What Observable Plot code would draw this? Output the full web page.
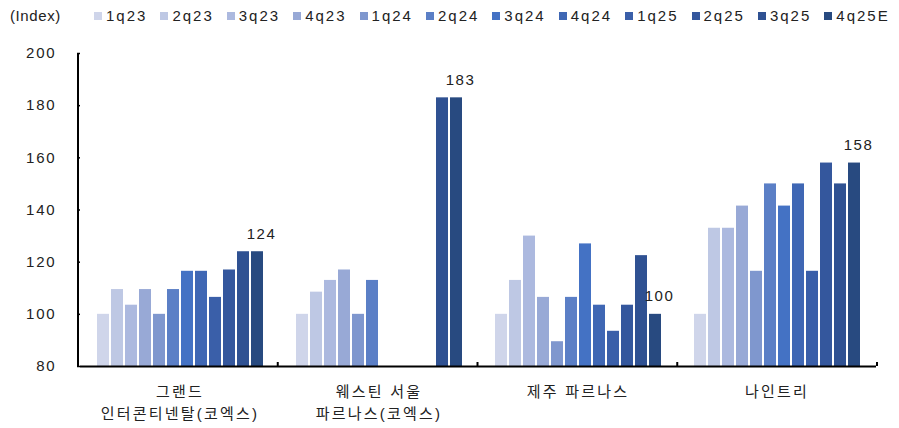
<!DOCTYPE html>
<html>
<head>
<meta charset="utf-8">
<script src="https://cdn.jsdelivr.net/npm/d3@7"></script>
<script src="https://cdn.jsdelivr.net/npm/@observablehq/plot@0.6"></script>
<style>
  html, body { margin: 0; padding: 0; background: #fff; }
  #wrap { position: relative; width: 899px; height: 428px; font-family: "Liberation Sans", "Noto Sans CJK KR", sans-serif; color: #222; }
  #unit { position: absolute; left: 10px; top: 7px; font-size: 15px; letter-spacing: 0.6px; }
  #legend { position: absolute; left: 94px; top: 7px; display: flex; font-size: 15px; letter-spacing: 2px; }
  .item { width: 66.4px; display: flex; align-items: center; white-space: nowrap; }
  .sw { width: 8px; height: 8px; margin-right: 4px; flex: none; }
  svg { position: absolute; left: 0; top: 0; }
  g[aria-label="y-axis tick label"] text { letter-spacing: 1.8px; }
  g[aria-label="fx-axis tick label"] text { letter-spacing: 2.2px; }
  g.barlabels text { letter-spacing: 1.5px; }
</style>
</head>
<body>
<div id="wrap">
  <div id="unit">(Index)</div>
  <div id="legend"></div>
</div>
<script>
const groups = ["그랜드\n인터콘티넨탈(코엑스)", "웨스틴 서울\n파르나스(코엑스)", "제주 파르나스", "나인트리"];
const quarters = ["1q23", "2q23", "3q23", "4q23", "1q24", "2q24", "3q24", "4q24", "1q25", "2q25", "3q25", "4q25E"];
const colors = ["#CFD5EA", "#BEC8E4", "#ACB9DF", "#98A9D6", "#7F97CE", "#5B7FC6", "#4472C4", "#3F67B4", "#3A5FA9", "#34579D", "#2F5192", "#284A80"];
const grandValues   = [100, 109.5, 103.5, 109.5, 100, 109.5, 116.5, 116.5, 106.5, 117, 124, 124];
const westinValues  = [100, 108.5, 113, 117, 100, 113, null, null, null, null, 183, 183];
const jejuValues    = [100, 113, 130, 106.5, 89.5, 106.5, 127, 103.5, 93.5, 103.5, 122.5, 100];
const ninetreeValues = [100, 133, 133, 141.5, 116.5, 150, 141.5, 150, 116.5, 158, 150, 158];
const labelValues = [124, 183, 100, 158];
const yTicks = [80, 100, 120, 140, 160, 180, 200];

const seriesByGroup = [grandValues, westinValues, jejuValues, ninetreeValues];
const rows = [];
groups.forEach((g, gi) => {
  quarters.forEach((q, qi) => {
    const v = seriesByGroup[gi][qi];
    if (v != null) rows.push({group: g, quarter: q, value: v});
  });
});
const labelRows = groups.map((g, gi) => ({group: g, quarter: quarters[quarters.length - 1], value: labelValues[gi], text: String(labelValues[gi])}));

// legend
const legend = document.getElementById("legend");
quarters.forEach((q, i) => {
  const it = document.createElement("div");
  it.className = "item";
  it.innerHTML = `<span class="sw" style="background:${colors[i]}"></span><span>${q}</span>`;
  legend.appendChild(it);
});

const chart = Plot.plot({
  width: 899,
  height: 428,
  marginTop: 53,
  marginBottom: 62,
  marginLeft: 78,
  marginRight: 22,
  style: {fontFamily: '"Liberation Sans", "Noto Sans CJK KR", sans-serif', fontSize: "15px", color: "#222", background: "transparent"},
  fx: {domain: groups, padding: 0, label: null},
  x: {domain: quarters, paddingInner: 0.15, paddingOuter: 0.885, axis: null},
  y: {domain: [80, 200], ticks: yTicks, label: null},
  color: {domain: quarters, range: colors},
  marks: [
    Plot.barY(rows, {fx: "group", x: "quarter", y1: 80, y2: "value", fill: "quarter"}),
    Plot.ruleY([80], {stroke: "#000", strokeWidth: 2}),
    Plot.axisY({ticks: yTicks, tickSize: 3, tickPadding: 21, stroke: "#000", strokeWidth: 1.5, fontSize: 15, fill: "#222", label: null}),
    Plot.axisFx({anchor: "bottom", tickSize: 0, tickPadding: 15, fontSize: 15, fill: "#222", lineHeight: 1.45, label: null}),
    Plot.text(labelRows, {fx: "group", x: "quarter", y: "value", text: "text", dy: -13, dx: 4, lineAnchor: "bottom", fontSize: 15, fill: "#222", className: "barlabels"})
  ]
});

// axis line on the left and small group-boundary ticks, placed with the chart's own scales
const fxS = chart.scale("fx");
const yS = chart.scale("y");
const yScale = d3.scaleLinear().domain(yS.domain).range(yS.range);
const fxScale = d3.scaleBand().domain(fxS.domain).range(fxS.range).paddingInner(fxS.paddingInner || 0).paddingOuter(fxS.paddingOuter || 0).align(fxS.align ?? 0.5);
const svg = d3.select(chart);
const yBase = yScale(yTicks[0]);
const gx = svg.append("g").attr("stroke", "#000").attr("stroke-width", 2);
gx.append("line")
  .attr("x1", fxScale(groups[0])).attr("x2", fxScale(groups[0]))
  .attr("y1", yBase + 1).attr("y2", yScale(yTicks[yTicks.length - 1]));
groups.forEach((g) => {
  const xe = fxScale(g) + fxScale.bandwidth();
  gx.append("line").attr("x1", xe).attr("x2", xe).attr("y1", yBase).attr("y2", yBase - 4);
});

document.getElementById("wrap").appendChild(chart);
</script>
</body>
</html>
